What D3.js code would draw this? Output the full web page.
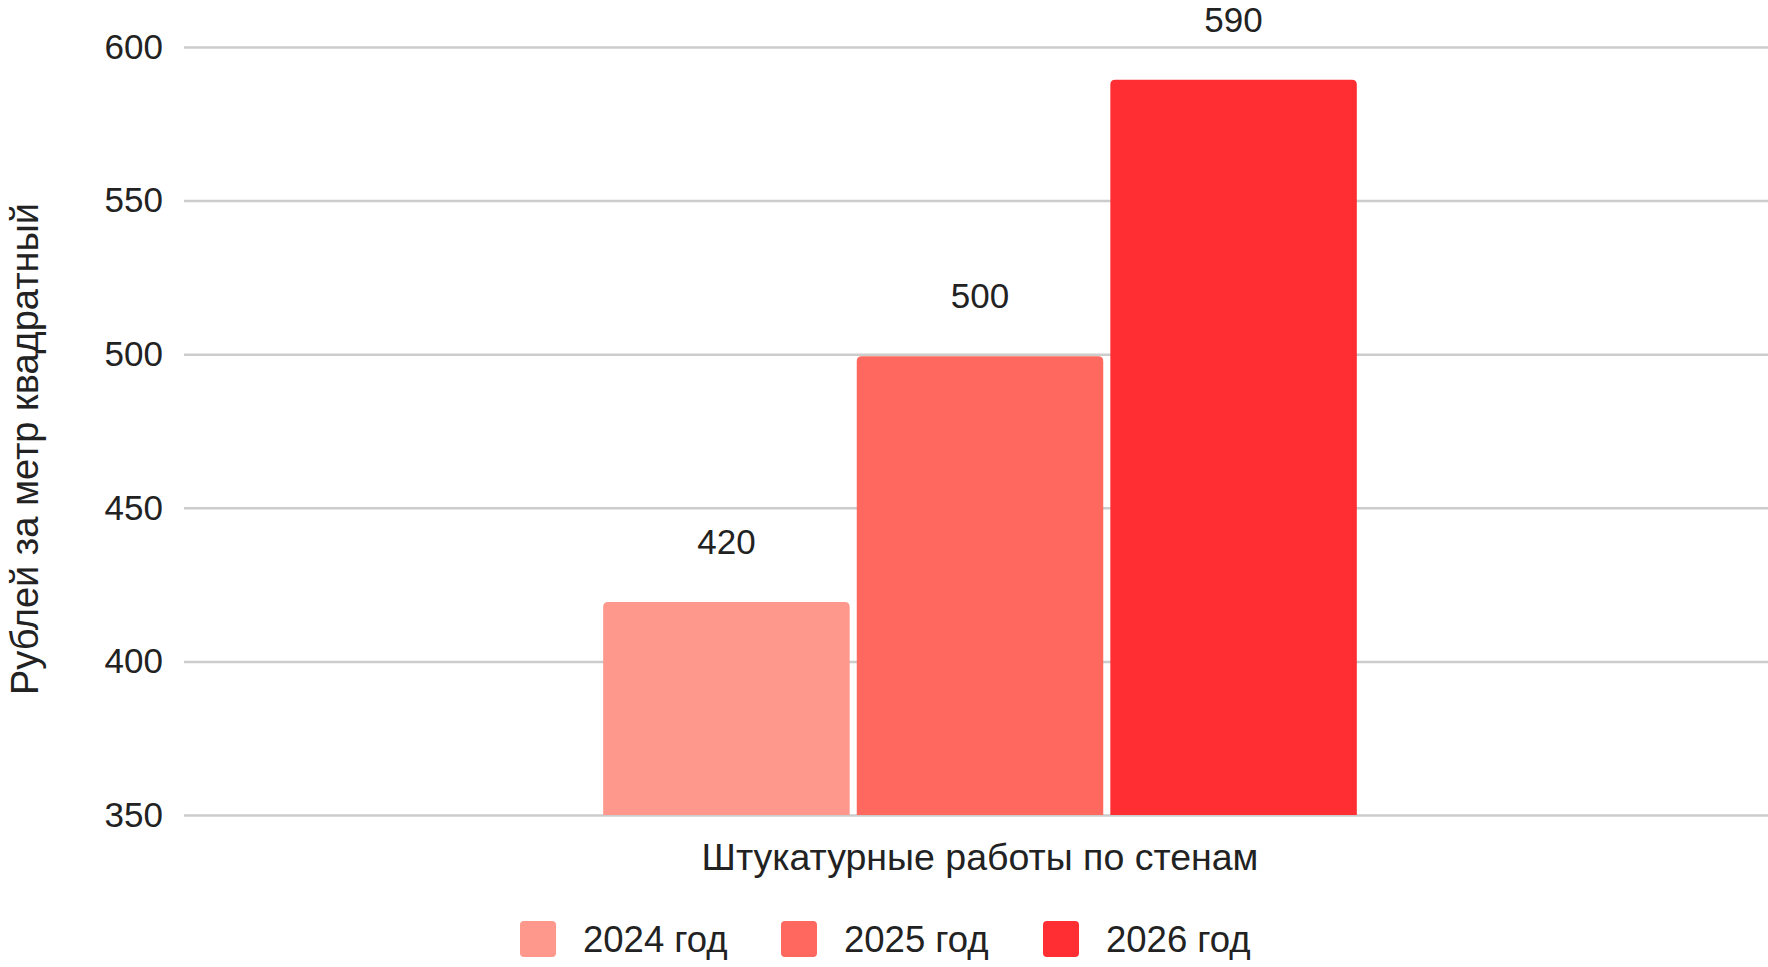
<!DOCTYPE html>
<html>
<head>
<meta charset="utf-8">
<script src="https://cdn.jsdelivr.net/npm/d3@7"></script>
<style>
  body { margin: 0; background: #fff; }
  text { font-family: Arial, "Liberation Sans", sans-serif; fill: #222; }
</style>
</head>
<body>
<div id="container"></div>
<script>
// данные
var categories = ["Штукатурные работы по стенам"];
var seriesNames = ["2024 год", "2025 год", "2026 год"];
var values = [420, 500, 590];
var seriesColors = ["#fe978c", "#fe685e", "#fe2e33"];
var yTicks = [350, 400, 450, 500, 550, 600];

var W = 1768, H = 967;
var margin = { top: 47, right: 0, bottom: 152, left: 184 };
var width = W - margin.left - margin.right;
var height = H - margin.top - margin.bottom;

var svg = d3.select("#container").append("svg")
  .attr("width", W)
  .attr("height", H);

var g = svg.append("g")
  .attr("transform", "translate(" + margin.left + "," + margin.top + ")");

var y = d3.scaleLinear().domain([350, 600]).range([height, 0]);
var x0 = d3.scaleBand().domain(categories).range([8, width]).padding(0.353);
var x1 = d3.scaleBand().domain(seriesNames).range([0, x0.bandwidth()]).paddingInner(0.028);

// сетка
g.append("g")
  .call(d3.axisLeft(y).tickValues(yTicks).tickSize(-width).tickPadding(21))
  .call(function(s) {
    s.select(".domain").remove();
    s.selectAll(".tick line").attr("stroke", "#cccccc").attr("stroke-width", 2.5);
    s.selectAll(".tick text").attr("font-size", 35).attr("fill", "#222");
  });

// столбцы со скруглёнными верхними углами
function topRounded(x, yy, w, h, r) {
  return "M" + x + "," + (yy + h) +
    "V" + (yy + r) + "Q" + x + "," + yy + " " + (x + r) + "," + yy +
    "H" + (x + w - r) + "Q" + (x + w) + "," + yy + " " + (x + w) + "," + (yy + r) +
    "V" + (yy + h) + "Z";
}

var grp = g.append("g").attr("transform", "translate(" + x0(categories[0]) + ",0)");

grp.selectAll("path.bar")
  .data(values)
  .enter().append("path")
  .attr("class", "bar")
  .attr("fill", function(d, i) { return seriesColors[i]; })
  .attr("d", function(d, i) {
    var top = y(d) + 2;
    return topRounded(x1(seriesNames[i]), top, x1.bandwidth(), height - top, 5);
  });

grp.selectAll("text.val")
  .data(values)
  .enter().append("text")
  .attr("class", "val")
  .attr("x", function(d, i) { return x1(seriesNames[i]) + x1.bandwidth() / 2; })
  .attr("y", function(d) { return y(d) - 58; })
  .attr("dy", "0.35em")
  .attr("text-anchor", "middle")
  .attr("font-size", 35)
  .text(function(d) { return d; });

// подпись категории
g.append("text")
  .attr("x", x0(categories[0]) + x0.bandwidth() / 2)
  .attr("y", height + 42)
  .attr("dy", "0.35em")
  .attr("text-anchor", "middle")
  .attr("font-size", 37.5)
  .text(categories[0]);

// подпись оси Y
svg.append("text")
  .attr("transform", "translate(25," + (margin.top + height / 2 + 18) + ") rotate(-90)")
  .attr("dy", "0.35em")
  .attr("text-anchor", "middle")
  .attr("font-size", 38)
  .text("Рублей за метр квадратный");

// легенда
var legendX = [520, 781, 1043];
var legend = svg.append("g").attr("transform", "translate(0,939)");
var items = legend.selectAll("g")
  .data(seriesNames)
  .enter().append("g")
  .attr("transform", function(d, i) { return "translate(" + legendX[i] + ",0)"; });

items.append("rect")
  .attr("x", 0).attr("y", -18)
  .attr("width", 36).attr("height", 36)
  .attr("rx", 4)
  .attr("fill", function(d, i) { return seriesColors[i]; });

items.append("text")
  .attr("x", 63)
  .attr("dy", "0.35em")
  .attr("font-size", 36.5)
  .text(function(d) { return d; });
</script>
</body>
</html>
